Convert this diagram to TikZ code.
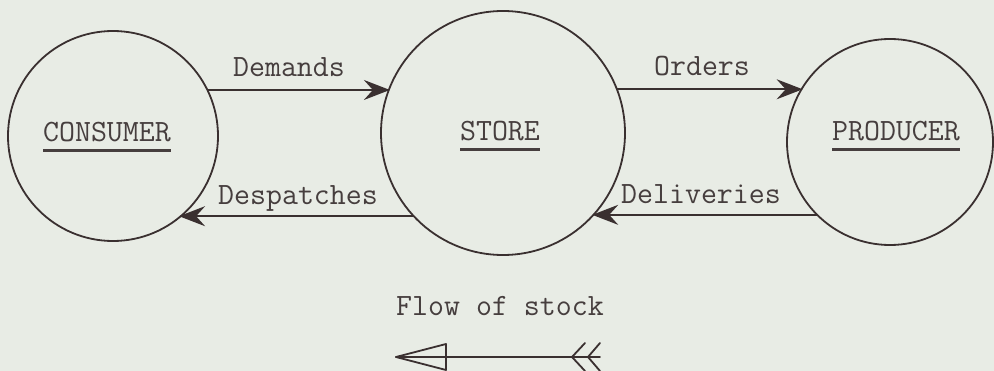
\documentclass[tikz,border=0pt]{standalone}
\usetikzlibrary{arrows.meta}
\definecolor{paper}{RGB}{232,236,229}
\definecolor{ink}{RGB}{58,48,48}
\definecolor{typeink}{RGB}{70,62,62}
\newcommand{\thickul}[1]{\setbox0\hbox{#1}\rlap{\copy0}\rule[-10pt]{\wd0}{2.5pt}}
\begin{document}
\begin{tikzpicture}[x=1pt,y=-1pt,
  party/.style={circle, draw=ink, line width=1.8pt, inner sep=0pt, outer sep=0pt, minimum size=#1},
  flowline/.style={draw=ink, line width=1.8pt, -{Stealth[length=26pt,width=20pt,inset=9pt]}},
  tt/.style={font=\ttfamily\fontsize{31}{37}\selectfont, text=typeink, inner sep=0pt, anchor=base},
  legend/.style={draw=ink, line width=1.8pt, line join=round, line cap=round},
]
\fill[paper] (0,0) rectangle (994,371);
\useasboundingbox (0,0) rectangle (994,371);

\node[party=210pt] (consumer) at (113,136) {};
\node[party=244pt] (store) at (503,133) {};
\node[party=206pt] (producer) at (890,142) {};

\node[tt] (consumertext) at (107,142) {\thickul{CONSUMER}};
\node[tt] (storetext) at (500,141) {\thickul{STORE}};
\node[tt] (producertext) at (896,141) {\thickul{PRODUCER}};

\draw[flowline] (consumer.26.6) -- (store.158.86 |- consumer.26.6);
\draw[flowline] (store.223.5) -- (consumer.309.5 |- store.223.5);
\draw[flowline] (store.21.6) -- (producer.148.4 |- store.21.6);
\draw[flowline] (producer.225.1) -- (store.317.8 |- producer.225.1);

\node[tt] (demands) at (289,77) {Demands};
\node[tt] (despatches) at (298,205) {Despatches};
\node[tt] (orders) at (702,76) {Orders};
\node[tt] (deliveries) at (701,204) {Deliveries};

\node[tt] (flowtext) at (500,316) {Flow of stock};
\coordinate (flowtip) at (396,357);
\coordinate (flowend) at (600,357);
\draw[legend] (flowend) -- (flowtip);
\draw[legend] (flowtip) -- (446,344) -- (446,370) -- cycle;
\draw[legend] (585,343) -- (572,357) -- (585,371);
\draw[legend] (600,343) -- (588,357) -- (600,371);
\end{tikzpicture}
\end{document}
